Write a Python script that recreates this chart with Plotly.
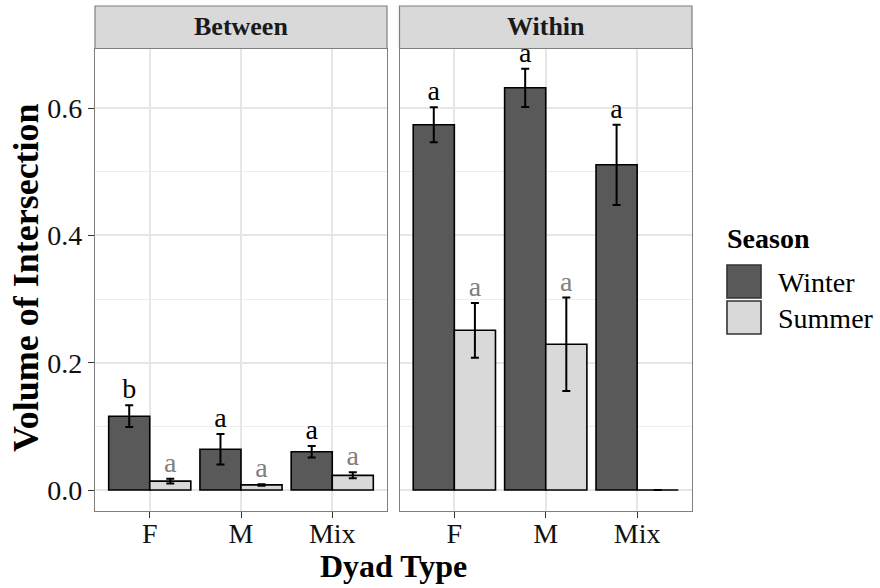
import plotly.graph_objects as go

W, H = 880, 588

categories = ["F", "M", "Mix"]
panels = ["Between", "Within"]
seasons = ["Winter", "Summer"]

# Between-dyad values
between_winter = [0.116, 0.064, 0.060]
between_winter_se = [0.017, 0.024, 0.009]
between_summer = [0.014, 0.008, 0.023]
between_summer_se = [0.0037, 0.0012, 0.0047]
between_winter_letters = ["b", "a", "a"]
between_summer_letters = ["a", "a", "a"]

# Within-dyad values
within_winter = [0.574, 0.632, 0.511]
within_winter_se = [0.0275, 0.030, 0.063]
within_summer = [0.251, 0.229, 0.0]
within_summer_se = [0.043, 0.0735, 0.0]
within_winter_letters = ["a", "a", "a"]
within_summer_letters = ["a", "a", ""]

season_fill = {"Winter": "#595959", "Summer": "#D9D9D9"}
letter_color = {"Winter": "#000000", "Summer": "#808080"}

FONT = "Liberation Serif"

data = {
    "Between": {
        "Winter": (between_winter, between_winter_se, between_winter_letters),
        "Summer": (between_summer, between_summer_se, between_summer_letters),
    },
    "Within": {
        "Winter": (within_winter, within_winter_se, within_winter_letters),
        "Summer": (within_summer, within_summer_se, within_summer_letters),
    },
}

def px(x):
    return x / W

def py(y):
    return 1 - y / H

fig = go.Figure()

dodge = {"Winter": -0.225, "Summer": 0.225}
bar_w = 0.45

for pi, panel in enumerate(panels):
    xa = "x" if pi == 0 else "x2"
    ya = "y" if pi == 0 else "y2"
    for s in seasons:
        vals, se, letters = data[panel][s]
        xs = [i + 1 + dodge[s] for i in range(len(categories))]
        fig.add_trace(go.Bar(
            x=xs, y=vals, width=bar_w, xaxis=xa, yaxis=ya,
            marker=dict(color=season_fill[s], line=dict(color="#000000", width=1.6)),
            error_y=dict(type="data", array=se, visible=True, color="#000000",
                         thickness=2, width=4),
            showlegend=False, name=s,
        ))
        tops = [v + e for v, e in zip(vals, se)]
        fig.add_trace(go.Scatter(
            x=xs, y=tops, xaxis=xa, yaxis=ya, mode="text", text=letters,
            textposition="top center",
            textfont=dict(family=FONT, size=28, color=letter_color[s]),
            showlegend=False, hoverinfo="skip",
        ))

y_dom = [py(511), py(49)]
x_doms = [[px(95), px(387)], [px(399.5), px(692)]]

axis_common = dict(
    showline=True, mirror=True, linecolor="#7F7F7F", linewidth=1.2,
    showgrid=True, gridcolor="#E6E6E6", gridwidth=1.8, zeroline=False,
)
minor_grid = dict(tickvals=[0.1, 0.3, 0.5], showgrid=True, gridcolor="#EDEDED",
                  gridwidth=1.2, ticks="")

for pi in range(2):
    key = "xaxis" if pi == 0 else "xaxis2"
    fig.layout[key] = dict(
        domain=x_doms[pi], range=[0.4, 3.6], tickvals=[1, 2, 3], ticktext=categories,
        ticks="outside", ticklen=6, tickwidth=1.2, tickcolor="#333333",
        ticklabelstandoff=-9,
        tickfont=dict(family=FONT, size=28, color="#111111"),
        anchor="y" if pi == 0 else "y2",
        **axis_common,
    )

fig.update_layout(
    yaxis=dict(
        domain=y_dom, range=[-0.033, 0.693], tickvals=[0, 0.2, 0.4, 0.6],
        tickformat=".1f", ticks="outside", ticklen=6, tickwidth=1.2, tickcolor="#333333",
        tickfont=dict(family=FONT, size=28, color="#111111"),
        minor=minor_grid, anchor="x", **axis_common,
    ),
    yaxis2=dict(
        domain=y_dom, range=[-0.033, 0.693], tickvals=[0, 0.2, 0.4, 0.6],
        showticklabels=False, ticks="", matches="y",
        minor=minor_grid, anchor="x2", **axis_common,
    ),
)

shapes = []
annotations = []

# facet strips
for pi, panel in enumerate(panels):
    shapes.append(dict(type="rect", xref="paper", yref="paper",
                       x0=x_doms[pi][0], x1=x_doms[pi][1], y0=py(48.5), y1=py(6),
                       fillcolor="#D9D9D9", line=dict(color="#7F7F7F", width=1.2), layer="above"))
    annotations.append(dict(xref="paper", yref="paper", x=(x_doms[pi][0] + x_doms[pi][1]) / 2,
                            y=py(27), text=f"<b>{panel}</b>", showarrow=False,
                            xanchor="center", yanchor="middle",
                            font=dict(family=FONT, size=26, color="#1A1A1A")))

# axis titles
annotations.append(dict(xref="paper", yref="paper", x=px(393.5), y=py(566),
                        text="<b>Dyad Type</b>", showarrow=False, xanchor="center", yanchor="middle",
                        font=dict(family=FONT, size=32, color="#000000")))
annotations.append(dict(xref="paper", yref="paper", x=px(26), y=py(278),
                        text="<b>Volume of Intersection</b>", showarrow=False, textangle=-90,
                        xanchor="center", yanchor="middle",
                        font=dict(family=FONT, size=36, color="#000000")))

# legend
annotations.append(dict(xref="paper", yref="paper", x=px(725), y=py(239),
                        text="<b>Season</b>", showarrow=False, xanchor="left", yanchor="middle",
                        font=dict(family=FONT, size=28, color="#000000")))
key_tops = [265, 301]
for s, kt in zip(seasons, key_tops):
    shapes.append(dict(type="rect", xref="paper", yref="paper",
                       x0=px(727), x1=px(761), y0=py(kt + 33), y1=py(kt),
                       fillcolor=season_fill[s], line=dict(color="#333333", width=1.6)))
    annotations.append(dict(xref="paper", yref="paper", x=px(776), y=py(kt + 17),
                            text=s, showarrow=False, xanchor="left", yanchor="middle",
                            font=dict(family=FONT, size=28, color="#000000")))

fig.update_layout(
    width=W, height=H, margin=dict(l=0, r=0, t=0, b=0),
    paper_bgcolor="white", plot_bgcolor="white",
    shapes=shapes, annotations=annotations, showlegend=False,
    font=dict(family=FONT),
)

fig.write_html("out.html")
